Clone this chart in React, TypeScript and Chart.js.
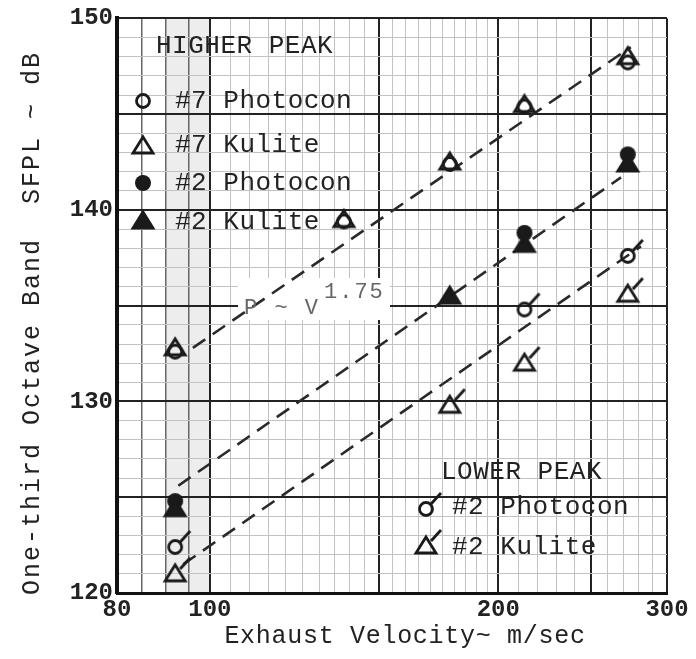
import React, { useEffect, useRef } from 'react';
import { Chart, registerables } from 'chart.js';

Chart.register(...registerables);

// ---- axes ----
const velocityGrid = [80, 85, 90, 95, 100, 105, 110, 115, 120, 125, 130, 135, 140, 145, 150, 155, 160, 165, 170, 175, 180, 185, 190, 195, 200, 210, 220, 230, 240, 250, 260, 270, 280, 290, 300];
const velocityLabels = [80, 100, 200, 300];
const velocityMajor = [100, 150, 200, 250, 300];
const velocityMedium = [85, 90, 95];
const dbGrid = [120, 121, 122, 123, 124, 125, 126, 127, 128, 129, 130, 131, 132, 133, 134, 135, 136, 137, 138, 139, 140, 141, 142, 143, 144, 145, 146, 147, 148, 149, 150];
const dbLabels = [120, 130, 140, 150];
const dbMajor = [125, 130, 135, 140, 145, 150];

// ---- data: higher peak ----
const hp7PhotoconV = [92, 138, 178, 213, 273];
const hp7PhotoconDb = [132.6, 139.4, 142.4, 145.4, 147.7];
const hp7KuliteV = [92, 138, 178, 213, 273];
const hp7KuliteDb = [132.8, 139.5, 142.5, 145.5, 148.0];
const hp2PhotoconV = [92, 213, 273];
const hp2PhotoconDb = [124.8, 138.8, 142.9];
const hp2KuliteV = [92, 178, 213, 273];
const hp2KuliteDb = [124.4, 135.5, 138.2, 142.4];
// ---- data: lower peak ----
const lp2PhotoconV = [92, 213, 273];
const lp2PhotoconDb = [122.4, 134.8, 137.6];
const lp2KuliteV = [92, 178, 213, 273];
const lp2KuliteDb = [121.0, 129.8, 132.0, 135.6];
// ---- P ~ V^1.75 fit lines ----
const fitUpperV = [96, 275];
const fitUpperDb = [132.8, 148.5];
const fitMiddleV = [92.7, 268.6];
const fitMiddleDb = [125.6, 141.7];
const fitLowerV = [93.8, 281.8];
const fitLowerDb = [121.5, 138.1];

const FONT = '"Liberation Mono", "DejaVu Sans Mono", monospace';
const INK = '#1a1a1a';

type Kind = 'openCircle' | 'openTriangle' | 'filledCircle' | 'filledTriangle' | 'flagCircle' | 'flagTriangle';

function makeMarker(kind: Kind): HTMLCanvasElement {
  const c = document.createElement('canvas');
  c.width = 44;
  c.height = 44;
  const g = c.getContext('2d')!;
  g.translate(22, 22);
  g.lineWidth = 2.8;
  g.strokeStyle = INK;
  g.fillStyle = INK;
  const tri = () => {
    g.beginPath();
    g.moveTo(0, -9);
    g.lineTo(10, 7);
    g.lineTo(-10, 7);
    g.closePath();
  };
  if (kind === 'openCircle' || kind === 'flagCircle') {
    g.beginPath();
    g.arc(0, 0, 6.5, 0, Math.PI * 2);
    g.stroke();
  } else if (kind === 'openTriangle' || kind === 'flagTriangle') {
    tri();
    g.stroke();
  } else if (kind === 'filledCircle') {
    g.beginPath();
    g.arc(0, 0, 8, 0, Math.PI * 2);
    g.fill();
  } else if (kind === 'filledTriangle') {
    tri();
    g.fill();
    g.stroke();
  }
  if (kind === 'flagCircle' || kind === 'flagTriangle') {
    g.beginPath();
    g.moveTo(5, -5);
    g.lineTo(15, -16);
    g.stroke();
  }
  return c;
}

function pts(xs: number[], ys: number[]) {
  return xs.map((x, i) => ({ x, y: ys[i] }));
}

export default function App() {
  const ref = useRef<HTMLCanvasElement | null>(null);

  useEffect(() => {
    document.body.style.margin = '0';
    const canvas = ref.current!;
    const m = {
      openCircle: makeMarker('openCircle'),
      openTriangle: makeMarker('openTriangle'),
      filledCircle: makeMarker('filledCircle'),
      filledTriangle: makeMarker('filledTriangle'),
      flagCircle: makeMarker('flagCircle'),
      flagTriangle: makeMarker('flagTriangle'),
    };

    const markerSet = (label: string, xs: number[], ys: number[], style: HTMLCanvasElement) => ({
      type: 'scatter' as const,
      label,
      data: pts(xs, ys),
      pointStyle: style,
      pointRadius: 10,
      showLine: false,
    });
    const fitSet = (label: string, xs: number[], ys: number[]) => ({
      type: 'line' as const,
      label,
      data: pts(xs, ys),
      borderColor: '#2a2a2a',
      borderWidth: 2.6,
      borderDash: [15, 9],
      pointRadius: 0,
      fill: false,
      tension: 0,
    });

    const bandPlugin = {
      id: 'band',
      beforeDraw(chart: any) {
        const { ctx, chartArea, scales } = chart;
        ctx.save();
        ctx.fillStyle = '#ffffff';
        ctx.fillRect(0, 0, chart.width, chart.height);
        const x0 = scales.x.getPixelForValue(90);
        const x1 = scales.x.getPixelForValue(100);
        ctx.fillStyle = 'rgba(0,0,0,0.07)';
        ctx.fillRect(x0, chartArea.top, x1 - x0, chartArea.bottom - chartArea.top);
        ctx.restore();
      },
      beforeDatasetsDraw(chart: any) {
        // white label patch behind the P ~ V^1.75 note
        const { ctx } = chart;
        ctx.save();
        ctx.fillStyle = '#ffffff';
        ctx.fillRect(238, 278, 152, 42);
        ctx.restore();
      },
    };

    const textPlugin = {
      id: 'texts',
      afterDraw(chart: any) {
        const { ctx } = chart;
        ctx.save();
        ctx.fillStyle = '#222';
        ctx.textBaseline = 'middle';
        ctx.textAlign = 'left';
        ctx.font = `26px ${FONT}`;
        (ctx as any).letterSpacing = '0.5px';
        ctx.fillText('HIGHER PEAK', 156, 46);
        ctx.fillText('#7 Photocon', 175, 101);
        ctx.fillText('#7 Kulite', 175, 145);
        ctx.fillText('#2 Photocon', 175, 183);
        ctx.fillText('#2 Kulite', 175, 222);
        ctx.fillText('LOWER PEAK', 441, 472);
        ctx.fillText('#2 Photocon', 452, 507);
        ctx.fillText('#2 Kulite', 452, 547);
        const dm = (img: HTMLCanvasElement, x: number, y: number) => ctx.drawImage(img, x - 22, y - 22);
        dm(m.openCircle, 143, 101);
        dm(m.openTriangle, 143, 146);
        dm(m.filledCircle, 143, 183);
        dm(m.filledTriangle, 143, 221);
        dm(m.flagCircle, 426, 509);
        dm(m.flagTriangle, 426, 546);

        // P ~ V^1.75
        ctx.fillStyle = '#666';
        ctx.font = `22px ${FONT}`;
        (ctx as any).letterSpacing = '2px';
        ctx.fillText('P ~ V', 244, 308);
        ctx.fillText('1.75', 324, 292);

        // axis titles
        ctx.fillStyle = '#222';
        ctx.font = `25px ${FONT}`;
        ctx.textAlign = 'center';
        (ctx as any).letterSpacing = '0.7px';
        ctx.fillText('Exhaust Velocity~ m/sec', 405, 636);
        ctx.translate(32, 323);
        ctx.rotate(-Math.PI / 2);
        (ctx as any).letterSpacing = '2px';
        ctx.fillText('One-third Octave Band  SFPL ~ dB', 0, 0);
        ctx.restore();
      },
    };

    const chart = new Chart(canvas, {
      type: 'scatter',
      data: {
        datasets: [
          markerSet('#7 Kulite', hp7KuliteV, hp7KuliteDb, m.openTriangle),
          markerSet('#7 Photocon', hp7PhotoconV, hp7PhotoconDb, m.openCircle),
          markerSet('#2 Kulite', hp2KuliteV, hp2KuliteDb, m.filledTriangle),
          markerSet('#2 Photocon', hp2PhotoconV, hp2PhotoconDb, m.filledCircle),
          markerSet('Lower #2 Photocon', lp2PhotoconV, lp2PhotoconDb, m.flagCircle),
          markerSet('Lower #2 Kulite', lp2KuliteV, lp2KuliteDb, m.flagTriangle),
          fitSet('fit upper', fitUpperV, fitUpperDb),
          fitSet('fit middle', fitMiddleV, fitMiddleDb),
          fitSet('fit lower', fitLowerV, fitLowerDb),
        ] as any,
      },
      options: {
        animation: false,
        responsive: false,
        devicePixelRatio: 1,
        layout: { padding: { top: 17, right: 29, left: 0, bottom: 0 } },
        plugins: { legend: { display: false }, tooltip: { enabled: false } },
        scales: {
          x: {
            type: 'logarithmic',
            min: 80,
            max: 300,
            afterBuildTicks: (scale: any) => {
              scale.ticks = velocityGrid.map((v) => ({ value: v }));
            },
            afterFit: (scale: any) => {
              scale.height = 66;
            },
            ticks: {
              autoSkip: false,
              maxRotation: 0,
              padding: 3,
              color: '#222',
              font: { family: FONT, size: 24, weight: 'bold' },
              callback: (value: any) => (velocityLabels.includes(Number(value)) ? String(value) : ''),
            },
            grid: {
              drawTicks: false,
              color: (c: any) => {
                const v = c.tick?.value;
                if (velocityMajor.includes(v)) return '#222';
                if (velocityMedium.includes(v)) return '#666';
                return '#c2c2c2';
              },
              lineWidth: (c: any) => {
                const v = c.tick?.value;
                if (velocityMajor.includes(v)) return 2;
                if (velocityMedium.includes(v)) return 1.5;
                return 1;
              },
            },
            border: { display: true, color: '#111', width: 3 },
          },
          y: {
            type: 'linear',
            min: 120,
            max: 150,
            afterBuildTicks: (scale: any) => {
              scale.ticks = dbGrid.map((v) => ({ value: v }));
            },
            afterFit: (scale: any) => {
              scale.width = 117;
            },
            ticks: {
              autoSkip: false,
              padding: 4,
              color: '#222',
              font: { family: FONT, size: 24, weight: 'bold' },
              callback: (value: any) => (dbLabels.includes(Number(value)) ? String(value) : ''),
            },
            grid: {
              drawTicks: false,
              color: (c: any) => (dbMajor.includes(c.tick?.value) ? '#222' : '#c2c2c2'),
              lineWidth: (c: any) => (dbMajor.includes(c.tick?.value) ? 2 : 1),
            },
            border: { display: true, color: '#111', width: 4 },
          },
        },
      } as any,
      plugins: [bandPlugin, textPlugin],
    });

    return () => chart.destroy();
  }, []);

  return <canvas ref={ref} width={696} height={659} style={{ display: 'block' }} />;
}
